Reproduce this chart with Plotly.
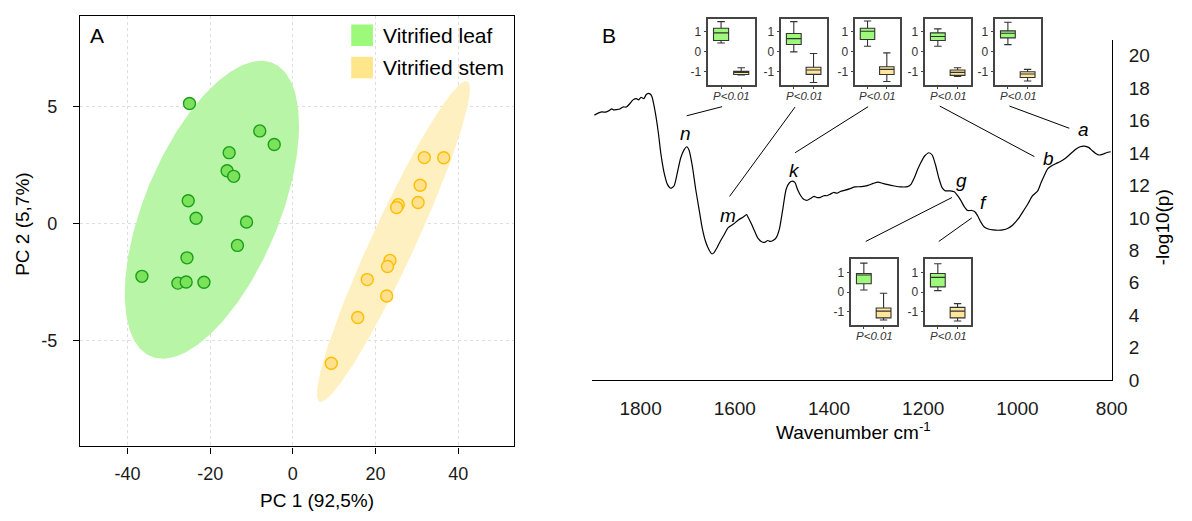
import numpy as np
import plotly.graph_objects as go

W, H = 1192, 521
FONT = "Liberation Sans, Arial, sans-serif"

# ---------------- Panel A data (PCA scores) ----------------
leaf_pc1 = [-25.0, -8.0, -4.5, -15.4, -15.9, -14.3, -25.3, -23.4, -11.2, -13.4, -25.6, -36.5, -27.8, -25.8, -21.5]
leaf_pc2 = [5.14, 3.97, 3.39, 3.04, 2.27, 2.03, 0.99, 0.24, 0.08, -0.92, -1.45, -2.24, -2.53, -2.48, -2.49]
stem_pc1 = [31.8, 36.5, 30.8, 25.5, 25.1, 30.3, 23.5, 22.9, 18.0, 22.7, 15.7, 9.3]
stem_pc2 = [2.83, 2.82, 1.65, 0.82, 0.70, 0.91, -1.56, -1.82, -2.38, -3.08, -4.0, -5.95]
group_names = ["Vitrified leaf", "Vitrified stem"]
pc1_ticks = [-40, -20, 0, 20, 40]
pc2_ticks = [-5, 0, 5]

# ---------------- Panel B data (spectrum, -log10(p)) ----------------
wavenumber = [1898, 1889, 1881, 1875, 1868, 1861, 1857, 1851, 1844, 1837,
              1830, 1823, 1816, 1809, 1804, 1799, 1793, 1788, 1785, 1780,
              1776, 1772, 1767, 1762, 1757, 1750, 1743, 1736, 1729, 1722,
              1715, 1708, 1702, 1697, 1690, 1683, 1676, 1669, 1662, 1655,
              1649, 1645, 1638, 1631, 1623, 1614, 1603, 1593, 1582, 1575,
              1572, 1565, 1558, 1551, 1544, 1537, 1530, 1525, 1519, 1512,
              1505, 1498, 1491, 1484, 1477, 1472, 1467, 1460, 1453, 1446,
              1439, 1432, 1425, 1418, 1411, 1404, 1397, 1390, 1383, 1376,
              1366, 1355, 1345, 1331, 1317, 1306, 1296, 1286, 1275, 1261,
              1247, 1233, 1226, 1219, 1212, 1205, 1197, 1188, 1181, 1174,
              1167, 1160, 1153, 1142, 1134, 1127, 1120, 1113, 1106, 1097,
              1091, 1085, 1078, 1071, 1062, 1052, 1041, 1031, 1020, 1010,
              999, 989, 978, 968, 957, 950, 943, 936, 929, 919,
              909, 898, 888, 877, 867, 858, 849, 841, 834, 827,
              818, 811, 802]
neglog_p = [16.34, 16.48, 16.54, 16.52, 16.60, 16.72, 16.66, 16.68, 16.72, 16.84,
            16.84, 17.04, 17.28, 17.36, 17.28, 17.44, 17.36, 17.61, 17.67, 17.65,
            17.49, 17.00, 16.20, 15.19, 13.98, 12.78, 12.07, 11.83, 11.97, 12.78,
            13.68, 14.18, 14.39, 14.18, 13.18, 11.77, 10.56, 9.36, 8.55, 8.05,
            7.79, 7.83, 8.15, 8.55, 8.95, 9.40, 9.62, 9.86, 10.06, 10.20,
            10.06, 9.65, 9.19, 8.75, 8.55, 8.49, 8.61, 8.55, 8.61, 8.79,
            9.36, 10.56, 11.77, 12.17, 12.27, 12.17, 11.77, 11.37, 11.13, 11.09,
            11.20, 11.33, 11.25, 11.27, 11.37, 11.37, 11.47, 11.57, 11.53, 11.63,
            11.71, 11.81, 11.91, 11.93, 12.01, 12.13, 12.21, 12.13, 12.05, 11.97,
            11.91, 11.93, 12.07, 12.47, 12.98, 13.42, 13.82, 14.02, 13.88, 13.28,
            12.47, 11.87, 11.67, 11.67, 11.61, 11.37, 11.07, 10.70, 10.46, 10.46,
            10.40, 10.16, 9.76, 9.46, 9.32, 9.26, 9.24, 9.26, 9.36, 9.56,
            9.92, 10.36, 10.86, 11.37, 11.67, 12.17, 12.62, 13.02, 13.18, 13.34,
            13.48, 13.68, 13.94, 14.22, 14.39, 14.43, 14.35, 14.14, 13.98, 13.88,
            13.94, 14.02, 14.08]
wn_ticks = [1800, 1600, 1400, 1200, 1000, 800]
p_ticks = list(range(0, 21, 2))

peak_labels = ["n", "m", "k", "g", "f", "b", "a"]
peak_wn = [1704, 1614, 1473, 1118, 1073, 934, 860]
peak_val = [15.19, 10.12, 12.95, 12.33, 10.96, 13.68, 15.43]

# leader lines from insets to peaks: (wn1, val1, wn2, val2)
leader_lines = [
    (1702, 16.30, 1627, 16.86),
    (1611, 11.33, 1472, 16.84),
    (1472, 14.02, 1317, 16.86),
    (1165, 16.90, 964, 13.78),
    (1017, 16.90, 890, 15.53),
    (1322, 8.55, 1139, 11.26),
    (1167, 8.55, 1097, 10.00),
]

# ---------------- Inset boxplots (scaled intensities) ----------------
leaf_low  = [0.44, 0.00, 0.28, 0.28, 0.36, 0.11, 0.08]
leaf_q1   = [0.57, 0.37, 0.62, 0.57, 0.70, 0.43, 0.27]
leaf_med  = [0.95, 0.66, 1.03, 0.77, 0.93, 0.87, 0.75]
leaf_q3   = [1.18, 0.92, 1.18, 0.95, 1.05, 0.95, 0.95]
leaf_high = [1.51, 1.51, 1.54, 1.15, 1.48, 1.47, 1.44]
stem_low  = [-1.15, -1.53, -1.48, -1.23, -1.45, -1.41, -1.46]
stem_q1   = [-1.13, -1.12, -1.13, -1.17, -1.28, -1.30, -1.30]
stem_med  = [-1.03, -0.90, -0.87, -1.02, -1.10, -0.96, -0.96]
stem_q3   = [-0.97, -0.77, -0.74, -0.90, -0.99, -0.80, -0.77]
stem_high = [-0.79, -0.08, -0.05, -0.79, -0.87, -0.05, -0.58]
inset_ticks = [-1, 0, 1]
p_text = "P<0.01"

# ---------------- layout helpers (pixel -> paper) ----------------
def fx(x):
    return x / W

def fy(y):
    return 1 - y / H

# inset frame positions in pixels (left, right, top, bottom)
inset_frames = [
    (718, 765, 19, 87), (792, 838, 19, 87), (867, 912, 19, 87),
    (938, 984, 19, 87), (1009, 1055, 19, 87),
    (863, 909, 265, 332), (938, 984, 265, 332),
]

LEAF_FILL = "#b9f5a6"
STEM_FILL = "#fff0c2"
LEAF_PT = "#7ce25c"
LEAF_EDGE = "#1a9f1a"
STEM_PT = "#ffe08c"
STEM_EDGE = "#ffbd00"
LEAF_BOX = "#9cf97a"
STEM_BOX = "#ffe69c"


def conf_ellipse(xs, ys, k=2.4477, n=240):
    pts = np.vstack([xs, ys])
    mu = pts.mean(axis=1)
    L = np.linalg.cholesky(np.cov(pts))
    t = np.linspace(0, 2 * np.pi, n)
    e = mu[:, None] + k * (L @ np.vstack([np.cos(t), np.sin(t)]))
    return e[0], e[1]


fig = go.Figure()

ex, ey = conf_ellipse(leaf_pc1, leaf_pc2)
fig.add_trace(go.Scatter(x=ex, y=ey, fill="toself", fillcolor=LEAF_FILL, mode="lines",
                         line=dict(width=0), hoverinfo="skip", showlegend=False))
ex, ey = conf_ellipse(stem_pc1, stem_pc2)
fig.add_trace(go.Scatter(x=ex, y=ey, fill="toself", fillcolor=STEM_FILL, mode="lines",
                         line=dict(width=0), hoverinfo="skip", showlegend=False))
fig.add_trace(go.Scatter(x=leaf_pc1, y=leaf_pc2, mode="markers", name=group_names[0],
                         marker=dict(size=12, color=LEAF_PT, line=dict(color=LEAF_EDGE, width=1.4)),
                         showlegend=False))
fig.add_trace(go.Scatter(x=stem_pc1, y=stem_pc2, mode="markers", name=group_names[1],
                         marker=dict(size=12, color=STEM_PT, line=dict(color=STEM_EDGE, width=1.4)),
                         showlegend=False))

# Spectrum
fig.add_trace(go.Scatter(x=wavenumber, y=neglog_p, mode="lines", xaxis="x2", yaxis="y2",
                         line=dict(color="black", width=1.2, shape="spline", smoothing=0.6),
                         hoverinfo="skip", showlegend=False))

layout_axes = {}
for i in range(7):
    ax = i + 3
    xa, ya = f"x{ax}", f"y{ax}"
    fig.add_trace(go.Box(x=[1], lowerfence=[leaf_low[i]], q1=[leaf_q1[i]], median=[leaf_med[i]],
                         q3=[leaf_q3[i]], upperfence=[leaf_high[i]], fillcolor=LEAF_BOX,
                         line=dict(color="#333333", width=1.1), width=0.75, boxpoints=False,
                         xaxis=xa, yaxis=ya, showlegend=False, hoverinfo="skip"))
    fig.add_trace(go.Box(x=[2], lowerfence=[stem_low[i]], q1=[stem_q1[i]], median=[stem_med[i]],
                         q3=[stem_q3[i]], upperfence=[stem_high[i]], fillcolor=STEM_BOX,
                         line=dict(color="#333333", width=1.1), width=0.75, boxpoints=False,
                         xaxis=xa, yaxis=ya, showlegend=False, hoverinfo="skip"))
    l, r, t, b = inset_frames[i]
    layout_axes[f"xaxis{ax}"] = dict(domain=[fx(l), fx(r)], range=[0.37, 2.67], anchor=ya,
                                     showline=True, mirror=True, linecolor="#444444", linewidth=1.6,
                                     ticks="outside", ticklen=2, tickcolor="#444444", tickvals=[1, 2],
                                     showticklabels=False, showgrid=False, zeroline=False, fixedrange=True)
    layout_axes[f"yaxis{ax}"] = dict(domain=[fy(b), fy(t)], range=[-1.66, 1.66], anchor=xa,
                                     showline=True, mirror=True, linecolor="#444444", linewidth=1.6,
                                     ticks="outside", ticklen=3, tickcolor="#444444",
                                     tickvals=inset_ticks, ticktext=[str(v) for v in inset_ticks],
                                     tickfont=dict(size=12, color="#333333", family=FONT),
                                     showgrid=False, zeroline=False, fixedrange=True)

annotations = []
shapes = []

for i in range(7):
    l, r, t, b = inset_frames[i]
    annotations.append(dict(x=fx((l + r) / 2), y=fy(b + 11), xref="paper", yref="paper",
                            text=f"<i>{p_text}</i>", showarrow=False, xanchor="center", yanchor="middle",
                            font=dict(size=11.5, color="#333333", family=FONT)))

for (w1, v1, w2, v2) in leader_lines:
    shapes.append(dict(type="line", xref="x2", yref="y2", x0=w1, y0=v1, x1=w2, y1=v2,
                       line=dict(color="black", width=1)))

for lab, w, v in zip(peak_labels, peak_wn, peak_val):
    annotations.append(dict(x=w, y=v, xref="x2", yref="y2", text=f"<i>{lab}</i>", showarrow=False,
                            xanchor="center", yanchor="middle", font=dict(size=19, color="black", family=FONT)))

# Legend (panel A)
legend_rows = [(25, 47, LEAF_BOX), (58, 80, "#ffe68a")]
for (t, b, c), name in zip(legend_rows, group_names):
    shapes.append(dict(type="rect", xref="paper", yref="paper", x0=fx(356), x1=fx(378),
                       y0=fy(b), y1=fy(t), fillcolor=c, line=dict(width=0)))
    annotations.append(dict(x=fx(386), y=fy((t + b) / 2), xref="paper", yref="paper", text=name,
                            showarrow=False, xanchor="left", yanchor="middle",
                            font=dict(size=21, color="black", family=FONT)))

# Panel letters and axis titles
annotations += [
    dict(x=fx(98), y=fy(36), text="A", font=dict(size=21)),
    dict(x=fx(617), y=fy(36), text="B", font=dict(size=21)),
    dict(x=fx(321), y=fy(511), text="PC 1 (92,5%)", font=dict(size=19)),
    dict(x=fx(22), y=fy(229), text="PC 2 (5,7%)", textangle=-90, font=dict(size=19)),
    dict(x=fx(865), y=fy(440), text="Wavenumber cm<sup>-1</sup>", font=dict(size=19)),
    dict(x=fx(1178), y=fy(232), text="-log10(p)", textangle=-90, font=dict(size=19)),
]
for a in annotations[-6:]:
    a.update(xref="paper", yref="paper", showarrow=False, xanchor="center", yanchor="middle")
    a["font"].update(color="black", family=FONT)

fig.update_layout(
    width=W, height=H, margin=dict(l=0, r=0, t=0, b=0),
    paper_bgcolor="white", plot_bgcolor="white",
    font=dict(family=FONT, color="black"),
    showlegend=False,
    xaxis=dict(domain=[fx(81), fx(521)], range=[-51.5, 53.5], anchor="y",
               tickvals=pc1_ticks, ticktext=[str(v) for v in pc1_ticks],
               ticks="outside", ticklen=6, tickcolor="black", ticklabelstandoff=5,
               showline=True, mirror=True, linecolor="black", linewidth=1.3,
               showgrid=True, gridcolor="#dedede", griddash="dot", gridwidth=1, zeroline=False,
               tickfont=dict(size=18, color="#1a1a1a")),
    yaxis=dict(domain=[fy(456), fy(16)], range=[-9.5, 8.89], anchor="x",
               tickvals=pc2_ticks, ticktext=[str(v) for v in pc2_ticks],
               ticks="outside", ticklen=6, tickcolor="black", ticklabelstandoff=12,
               showline=True, mirror=True, linecolor="black", linewidth=1.3,
               showgrid=True, gridcolor="#dedede", griddash="dot", gridwidth=1, zeroline=False,
               tickfont=dict(size=18, color="#1a1a1a")),
    xaxis2=dict(domain=[fx(600), fx(1127)], range=[1903.2, 799.6], anchor="y2",
                tickvals=wn_ticks, ticktext=[str(v) for v in wn_ticks], ticks="",
                ticklabelstandoff=11, showline=True, linecolor="black", linewidth=1.2,
                showgrid=False, zeroline=False, tickfont=dict(size=19, color="#1a1a1a")),
    yaxis2=dict(domain=[fy(388.3), fy(40.4)], range=[0, 21], anchor="x2", side="right",
                tickvals=p_ticks, ticktext=[str(v) for v in p_ticks], ticks="",
                ticklabelstandoff=12, showline=True, linecolor="black", linewidth=1.2,
                showgrid=False, zeroline=False, tickfont=dict(size=19, color="#1a1a1a")),
    annotations=annotations,
    shapes=shapes,
    **layout_axes,
)

fig.write_html("out.html")
